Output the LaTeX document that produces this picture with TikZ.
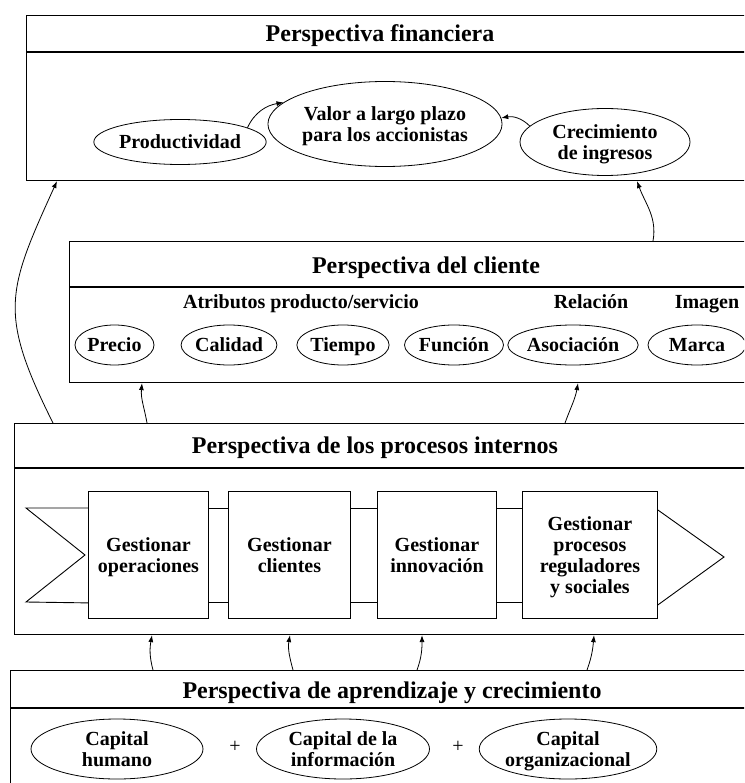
\documentclass[tikz,border=0pt]{standalone}
\usepackage{fontspec}
\setmainfont{Liberation Serif}
\usetikzlibrary{shapes.geometric,arrows.meta}
\newcommand\bodyfnt{\bfseries\fontsize{20}{21}\selectfont}
\newcommand\headfnt{\bfseries\fontsize{24}{26}\selectfont}
\begin{document}
\begin{tikzpicture}[x=1pt,y=-1pt,
  panel/.style={draw, line width=1.1pt, rectangle, inner sep=0pt, anchor=north west},
  divider/.style={line width=1.1pt},
  oval/.style={ellipse, draw, line width=0.8pt, inner sep=0pt, align=center,
               font=\bodyfnt, text depth=0pt},
  procbox/.style={rectangle, draw, line width=0.9pt, inner sep=0pt, align=center,
                  font=\bodyfnt, text depth=0pt, anchor=north west, minimum height=127pt},
  band/.style={line width=0.9pt},
  flow/.style={line width=0.8pt, -{Latex[length=7pt,width=5pt]}},
  title/.style={font=\headfnt, inner sep=0pt, text depth=0pt},
  label/.style={font=\bodyfnt, inner sep=0pt, align=center, text depth=0pt},
  plus/.style={font=\fontsize{20}{21}\selectfont, inner sep=0pt},
]
\useasboundingbox (0,0) rectangle (744,783);
\fill[white] (0,0) rectangle (744,783);
\clip (0,0) rectangle (744,783);

% ---------- Perspectiva financiera ----------
\node[panel, minimum width=760pt, minimum height=165pt] (fin) at (26,15) {};
\draw[divider] ([yshift=-37pt]fin.north west) -- ([yshift=-37pt]fin.north east);
\node[title] (fintitle) at (380,33) {Perspectiva financiera};
\node[oval, minimum width=141pt, minimum height=45pt] (prod) at (180,142) {Productividad};
\node[oval, minimum width=184pt, minimum height=85pt] (valor) at (385,124)
  {Valor a largo plazo\\para los accionistas};
\node[oval, minimum width=170pt, minimum height=67pt] (crec) at (605,142)
  {Crecimiento\\de ingresos};
\draw[flow] (prod.12) to[out=65,in=190] (valor.168);
\draw[flow] (crec.168) to[out=135,in=10] (valor.3);

% ---------- Perspectiva del cliente ----------
\node[panel, minimum width=720pt, minimum height=141pt] (cli) at (69,241) {};
\draw[divider] ([yshift=-46pt]cli.north west) -- ([yshift=-46pt]cli.north east);
\node[title] (clititle) at (426,265) {Perspectiva del cliente};
\node[label] (attr) at (301,302) {Atributos producto/servicio};
\node[label] (rel) at (591,302) {Relación};
\node[label] (img) at (707,302) {Imagen};
\node[oval, minimum width=79pt, minimum height=40pt] (precio) at (114.5,345) {Precio};
\node[oval, minimum width=88pt, minimum height=40pt] (calidad) at (229,345) {Calidad};
\node[oval, minimum width=88pt, minimum height=40pt] (tiempo) at (343,345) {Tiempo};
\node[oval, minimum width=88pt, minimum height=40pt] (funcion) at (454,345) {Función};
\node[oval, minimum width=116pt, minimum height=40pt] (asoc) at (573,345) {Asociación};
\node[oval, minimum width=98pt, minimum height=40pt] (marca) at (697,345) {Marca};

% ---------- Perspectiva de los procesos internos ----------
\node[panel, minimum width=780pt, minimum height=211pt] (proc) at (14,423) {};
\draw[divider] ([yshift=-45pt]proc.north west) -- ([yshift=-45pt]proc.north east);
\node[title] (proctitle) at (375,445) {Perspectiva de los procesos internos};
\node[procbox, minimum width=120pt] (b1) at (88,491) {Gestionar\\operaciones};
\node[procbox, minimum width=122pt] (b2) at (228,491) {Gestionar\\clientes};
\node[procbox, minimum width=119pt] (b3) at (377,491) {Gestionar\\innovación};
\node[procbox, minimum width=135pt] (b4) at (522,491)
  {Gestionar\\procesos\\reguladores\\y sociales};
% chain band linking the process boxes
\draw[band] ([yshift=-17pt]b1.north west) -- (26,508) -- (85,555) -- (26,602)
  -- ([yshift=16pt]b1.south west);
\draw[band] ([yshift=-17pt]b1.north east) -- ([yshift=-17pt]b2.north west);
\draw[band] ([yshift=16pt]b1.south east) -- ([yshift=16pt]b2.south west);
\draw[band] ([yshift=-17pt]b2.north east) -- ([yshift=-17pt]b3.north west);
\draw[band] ([yshift=16pt]b2.south east) -- ([yshift=16pt]b3.south west);
\draw[band] ([yshift=-17pt]b3.north east) -- ([yshift=-17pt]b4.north west);
\draw[band] ([yshift=16pt]b3.south east) -- ([yshift=16pt]b4.south west);
\draw[band] ([yshift=-19pt]b4.north east) -- (724,557) -- ([yshift=14pt]b4.south east);

% ---------- Perspectiva de aprendizaje y crecimiento ----------
\node[panel, minimum width=780pt, minimum height=130pt] (learn) at (10,670) {};
\draw[divider] ([yshift=-38pt]learn.north west) -- ([yshift=-38pt]learn.north east);
\node[title] (learntitle) at (392,690) {Perspectiva de aprendizaje y crecimiento};
\node[oval, minimum width=172pt, minimum height=60pt] (humano) at (117,749)
  {Capital\\humano};
\node[oval, minimum width=173pt, minimum height=60pt] (info) at (343,749)
  {Capital de la\\información};
\node[oval, minimum width=173pt, minimum height=60pt] (organiz) at (568,749)
  {Capital\\organizacional};
\node[plus] (plus1) at (235,747) {+};
\node[plus] (plus2) at (458,747) {+};

% ---------- links between perspectives ----------
\draw[flow] ([xshift=143pt]learn.north west) to[out=105,in=-100] ([xshift=138pt]proc.south west);
\draw[flow] ([xshift=283pt]learn.north west) to[out=105,in=-100] ([xshift=276pt]proc.south west);
\draw[flow] ([xshift=407pt]learn.north west) to[out=70,in=-90] ([xshift=408pt]proc.south west);
\draw[flow] ([xshift=577pt]learn.north west) to[out=70,in=-95] ([xshift=580pt]proc.south west);

\draw[flow] ([xshift=133pt]proc.north west) to[out=100,in=-95] ([xshift=73pt]cli.south west);
\draw[flow] ([xshift=551pt]proc.north west) to[out=70,in=-100] ([xshift=509pt]cli.south west);

\draw[flow] ([xshift=39pt]proc.north west) .. controls +(-55,-110) and +(-50,110)
  .. ([xshift=31pt]fin.south west);
\draw[flow] ([xshift=584pt]cli.north west) to[out=80,in=-70] ([xshift=611pt]fin.south west);
\end{tikzpicture}
\end{document}
